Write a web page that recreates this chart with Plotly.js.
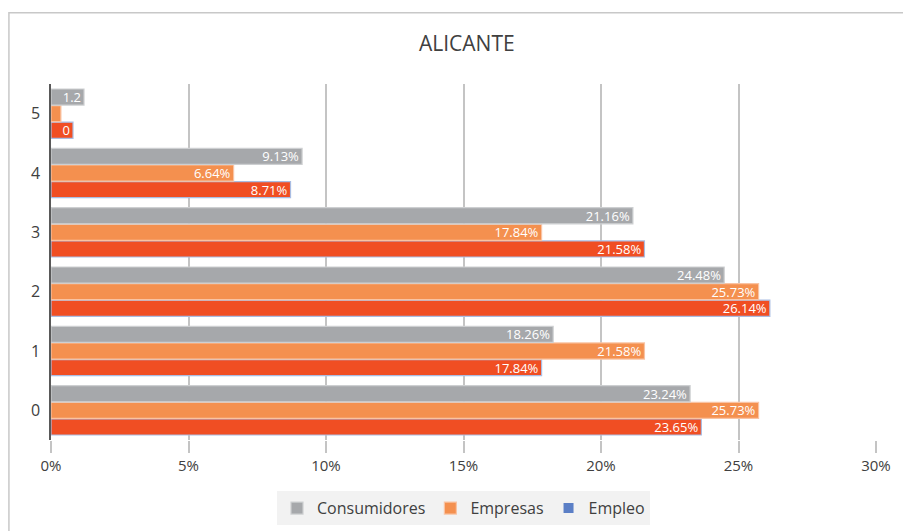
<!DOCTYPE html>
<html>
<head>
<meta charset="utf-8">
<script src="https://cdn.plot.ly/plotly-3.0.1.min.js"></script>
<style>
  body { margin: 0; background: #fff; }
  #chart { width: 903px; height: 531px; }
</style>
</head>
<body>
<div id="chart"></div>
<script>
// categories, bottom to top
var categories = ["0", "1", "2", "3", "4", "5"];

// values in percent
var consumidores = [23.24, 18.26, 24.48, 21.16, 9.13, 1.2];
var empresas = [25.73, 21.58, 25.73, 17.84, 6.64, 0.36];
var empleo = [23.65, 17.84, 26.14, 21.58, 8.71, 0.8];

// data labels as shown
var consumidoresText = ["23.24%", "18.26%", "24.48%", "21.16%", "9.13%", "1.2"];
var empresasText = ["25.73%", "21.58%", "25.73%", "17.84%", "6.64%", ""];
var empleoText = ["23.65%", "17.84%", "26.14%", "21.58%", "8.71%", "0"];

var tickVals = [0, 5, 10, 15, 20, 25, 30];
var tickText = ["0%", "5%", "10%", "15%", "20%", "25%", "30%"];

var labelFont = {family: "Open Sans, sans-serif", size: 13, color: "#ffffff"};

function barTrace(name, vals, txt, fill, edge, rank) {
    return {
        type: "bar",
        orientation: "h",
        name: name,
        y: categories,
        x: vals,
        text: txt,
        textposition: "inside",
        insidetextanchor: "end",
        textangle: 0,
        constraintext: "none",
        textfont: labelFont,
        marker: {color: fill, line: {color: edge, width: 1.2}},
        legendrank: rank,
        hoverinfo: "x+name"
    };
}

// Empleo first so it sits at the bottom of each group
var tEmpleo = barTrace("Empleo", empleo, empleoText, "#F04E23", "#a9bde3", 3);
tEmpleo.showlegend = false;
var tEmpresas = barTrace("Empresas", empresas, empresasText, "#F4904F", "#f9c3a3", 2);
var tConsum = barTrace("Consumidores", consumidores, consumidoresText, "#A6A8AB", "#cdcfd1", 1);

// legend entry for Empleo uses the blue swatch of the original
var tEmpleoLegend = {
    type: "scatter",
    mode: "markers",
    name: "Empleo",
    x: [null],
    y: [null],
    marker: {symbol: "square", size: 10, color: "#5B7FC6"},
    legendrank: 3,
    hoverinfo: "skip"
};

var layout = {
    width: 903,
    height: 531,
    margin: {l: 51, r: 27, t: 84, b: 91},
    paper_bgcolor: "#ffffff",
    plot_bgcolor: "#ffffff",
    title: {
        text: "ALICANTE",
        font: {family: "Open Sans, sans-serif", size: 21, color: "#404040"},
        x: 0.517,
        xanchor: "center",
        y: 0.917,
        yanchor: "middle"
    },
    barmode: "group",
    bargap: 0.16,
    bargroupgap: 0.03,
    showlegend: true,
    legend: {
        orientation: "h",
        x: 0.5,
        xanchor: "center",
        yref: "container",
        y: 0.043,
        yanchor: "middle",
        bgcolor: "#f2f2f2",
        font: {family: "Open Sans, sans-serif", size: 16, color: "#404040"},
        itemwidth: 20,
        itemclick: false
    },
    xaxis: {
        range: [0, 30],
        tickvals: tickVals,
        ticktext: tickText,
        showgrid: true,
        gridcolor: "#c4c4c4",
        gridwidth: 1.5,
        zeroline: false,
        ticks: "outside",
        ticklen: 12,
        tickcolor: "#c4c4c4",
        tickwidth: 1.5,
        showline: false,
        automargin: false,
        tickfont: {family: "Open Sans, sans-serif", size: 15, color: "#404040"},
        fixedrange: true
    },
    yaxis: {
        type: "category",
        range: [-0.5, 5.5],
        showgrid: false,
        showline: true,
        linecolor: "#595959",
        linewidth: 1.5,
        ticks: "",
        ticklabelstandoff: 6,
        automargin: false,
        tickfont: {family: "Open Sans, sans-serif", size: 16, color: "#404040"},
        fixedrange: true
    },
    shapes: [{
        type: "rect",
        xref: "paper",
        yref: "paper",
        x0: -0.051,
        x1: 1.2,
        y0: -0.6,
        y1: 1.2,
        line: {color: "#c8c8c8", width: 1.5},
        layer: "below"
    }]
};

Plotly.newPlot("chart", [tEmpleo, tEmpresas, tConsum, tEmpleoLegend], layout, {displayModeBar: false});
</script>
</body>
</html>
